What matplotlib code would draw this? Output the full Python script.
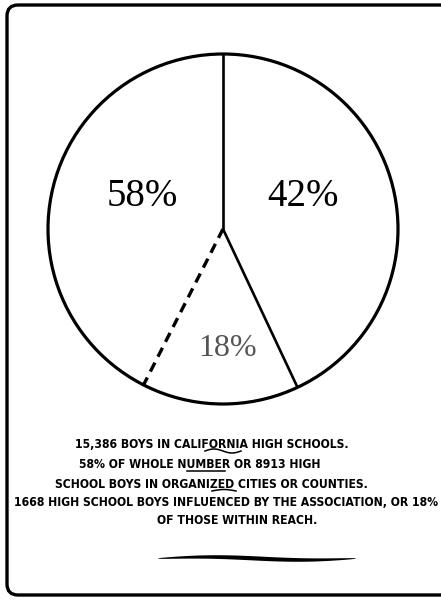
from matplotlib import pyplot as plt
from matplotlib.patches import FancyBboxPatch, Circle
import numpy as np

# slices as drawn on the sheet, clockwise from 12 o'clock
shares = [43.0, 14.5, 42.5]
share_labels = ['42%', '18%', '58%']

notes = [
    '15,386 BOYS IN CALIFORNIA HIGH SCHOOLS.',
    '58% OF WHOLE NUMBER OR 8913 HIGH',
    'SCHOOL BOYS IN ORGANIZED CITIES OR COUNTIES.',
    '1668 HIGH SCHOOL BOYS INFLUENCED BY THE ASSOCIATION, OR 18%',
    'OF THOSE WITHIN REACH.',
]

W, H = 441, 602
fig = plt.figure(figsize=(W / 100, H / 100), dpi=100)
fig.patch.set_facecolor('white')

# pie axes: centre ~ (223, 229), radius ~175 px
cx, cy, r = 223, 229, 175
ax = fig.add_axes([(cx - r) / W, (H - cy - r) / H, 2 * r / W, 2 * r / H])
wedges, _ = ax.pie(shares, startangle=90, counterclock=False,
                   colors=['white'] * 3, wedgeprops=dict(lw=0))
ax.set_xlim(-1, 1)
ax.set_ylim(-1, 1)
ax.set_aspect('equal')
ax.axis('off')

ax.add_patch(Circle((0, 0), 1, fill=False, ec='black', lw=2.3, zorder=3, clip_on=False))
for i, w in enumerate(wedges):
    a = np.deg2rad(w.theta2)
    if i == 2:
        # boundary between the 18% and the rest of the 58% is dashed
        ax.plot([0, np.cos(a)], [0, np.sin(a)], ls=(0, (3.0, 2.0)), color='black',
                lw=2.4, zorder=3, clip_on=False)
    else:
        ax.plot([0, np.cos(a)], [0, np.sin(a)], color='black', lw=1.9, zorder=3,
                solid_capstyle='butt', clip_on=False)

# overlay in pixel units for the frame and the caption
ov = fig.add_axes([0, 0, 1, 1])
ov.set_xlim(0, W)
ov.set_ylim(H, 0)
ov.axis('off')
ov.patch.set_alpha(0)

frame = FancyBboxPatch((7, 5), 470, 590, boxstyle='round,pad=0,rounding_size=11',
                       fill=False, ec='black', lw=2.4)
ov.add_patch(frame)

# percentage labels
ov.text(142, 197, share_labels[2], ha='center', va='center',
        family='Liberation Serif', fontsize=28)
ov.text(303, 197, share_labels[0], ha='center', va='center',
        family='Liberation Serif', fontsize=28)
ov.text(228, 348, share_labels[1], ha='center', va='center',
        family='Liberation Serif', fontsize=23, color='#555555')

# caption
note_pos = [(212, 445), (200, 465), (211, 485), (226, 502), (237, 520)]
txts = []
for (x, y), s in zip(note_pos, notes):
    txts.append(ov.text(x, y, s, ha='center', va='center', fontsize=10,
                        family='DejaVu Sans', fontstretch='condensed',
                        weight='bold'))
# fit the longest line to its width on the sheet (~425 px)
fig.canvas.draw()
rend = fig.canvas.get_renderer()
w4 = txts[3].get_window_extent(rend).width
fs = 10 * 425 / w4
for tx in txts:
    tx.set_fontsize(fs)

# hand-drawn strokes under some words
t = np.linspace(0, 1, 40)
ov.plot(205 + 36 * t, 451 - 2.0 * np.sin(np.pi * 2 * t), color='black', lw=1.1)
ov.plot([187, 225], [471, 471], color='black', lw=1.1)
ov.plot(212 + 24 * t, 491 - 1.5 * np.sin(np.pi * t), color='black', lw=1.1)

# closing swash
xs = 158 + 197 * t
mid = 558 + 1.5 * np.sin(np.pi * 2 * t + np.pi)
half = 0.3 + 1.8 * np.sin(np.pi * t) ** 0.7
ov.fill_between(xs, mid - half, mid + half, color='black', lw=0)

fig.savefig('out.png', dpi=100)
